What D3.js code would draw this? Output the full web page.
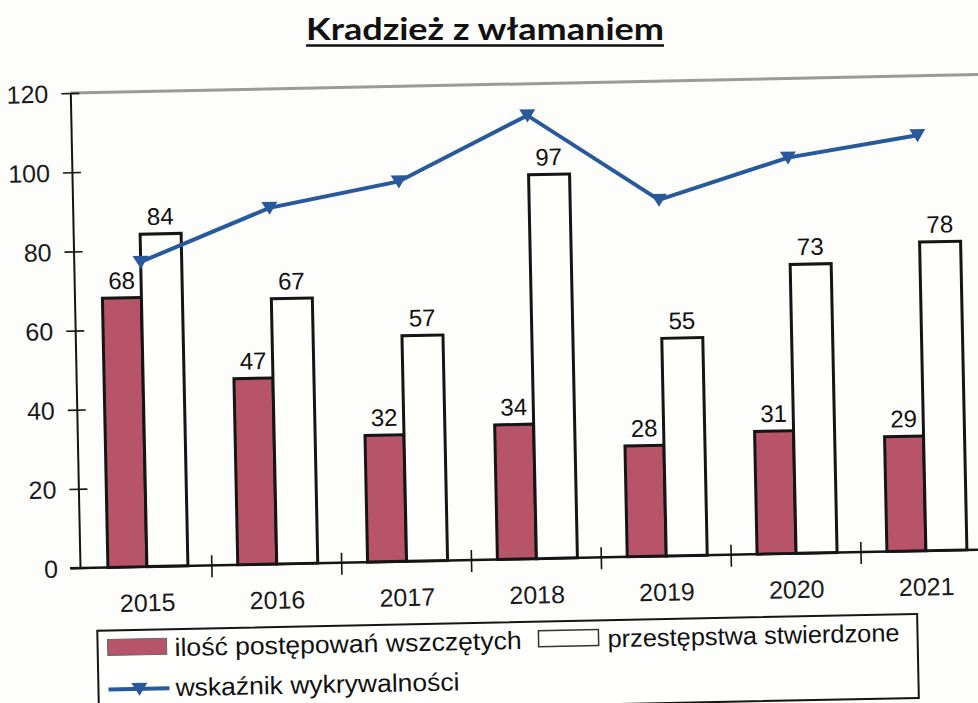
<!DOCTYPE html>
<html>
<head>
<meta charset="utf-8">
<script src="https://cdn.jsdelivr.net/npm/d3@7"></script>
<style>
  html, body { margin: 0; padding: 0; background: #fdfdfc; }
  svg { display: block; }
</style>
</head>
<body>
<script>
const years = ["2015", "2016", "2017", "2018", "2019", "2020", "2021"];
const wszczete = [68, 47, 32, 34, 28, 31, 29];
const stwierdzone = [84, 67, 57, 97, 55, 73, 78];
const wskaznik = [77, 90, 96, 112, 90, 100, 105];
const yTicks = [0, 20, 40, 60, 80, 100, 120];
const seriesNames = ["ilość postępowań wszczętych", "przestępstwa stwierdzone", "wskaźnik wykrywalności"];
const titleText = "Kradzież z włamaniem";

const W = 978, H = 703;
const svg = d3.select("body").append("svg").attr("width", W).attr("height", H);

const RED = "#b85469", BLUE = "#28599a", INK = "#151515";
const FONT = "'Liberation Sans', Arial, sans-serif";

// Title
svg.append("text")
  .attr("x", 485).attr("y", 40)
  .attr("text-anchor", "middle")
  .attr("font-family", "Lato, 'Open Sans', sans-serif")
  .attr("font-weight", 700)
  .attr("font-size", 31)
  .attr("fill", "#111")
  .attr("textLength", 358).attr("lengthAdjust", "spacingAndGlyphs")
  .text(titleText);
svg.append("line").attr("x1", 306).attr("x2", 664).attr("y1", 45.5).attr("y2", 45.5)
  .attr("stroke", "#111").attr("stroke-width", 2.5);

// Chart group (scan is slightly rotated)
const g = svg.append("g").attr("transform", "rotate(-1.17, 80, 568)");

const x = d3.scaleBand().domain(years).range([82, 991]).paddingInner(0).paddingOuter(0);
const y = d3.scaleLinear().domain([0, 120]).range([568, 93]);
const barW = 39;

// top border of plot
g.append("line").attr("x1", 80).attr("x2", 1000).attr("y1", y(120)).attr("y2", y(120))
  .attr("stroke", "#9a9a9a").attr("stroke-width", 3);

// Y axis
const yAxis = d3.axisLeft(y).tickValues(yTicks).tickSize(0).tickPadding(22);
const ya = g.append("g").attr("transform", "translate(80,0)").call(yAxis);
ya.select(".domain").attr("stroke", INK).attr("stroke-width", 2);
ya.selectAll(".tick text").attr("font-family", FONT).attr("font-size", 25).attr("fill", "#1a1a1a").attr("dy", "0.35em");
ya.selectAll(".tick").append("line").attr("x1", -9).attr("x2", 9).attr("stroke", INK).attr("stroke-width", 1.6);

// X axis baseline and ticks
const xAxis = d3.axisBottom(x).tickSize(0).tickPadding(27);
const xa = g.append("g").attr("transform", `translate(0,${y(0)})`).call(xAxis);
xa.select(".domain").remove();
xa.selectAll(".tick text").attr("font-family", FONT).attr("font-size", 25).attr("fill", "#1a1a1a");
g.append("line").attr("x1", 70).attr("x2", 1000).attr("y1", y(0)).attr("y2", y(0))
  .attr("stroke", INK).attr("stroke-width", 2.5);
g.selectAll(".xsep").data(years.slice(1)).join("line")
  .attr("class", "xsep")
  .attr("x1", d => x(d)).attr("x2", d => x(d))
  .attr("y1", y(0) - 10).attr("y2", y(0) + 12)
  .attr("stroke", INK).attr("stroke-width", 1.6);

const cx = d => x(d) + x.bandwidth() / 2;

// Bars
g.selectAll(".bar-a").data(years).join("rect")
  .attr("class", "bar-a")
  .attr("x", d => cx(d) - barW).attr("width", barW)
  .attr("y", (d, i) => y(wszczete[i])).attr("height", (d, i) => y(0) - y(wszczete[i]))
  .attr("fill", RED).attr("stroke", INK).attr("stroke-width", 3);
g.selectAll(".bar-b").data(years).join("rect")
  .attr("class", "bar-b")
  .attr("x", d => cx(d)).attr("width", barW + 2)
  .attr("y", (d, i) => y(stwierdzone[i])).attr("height", (d, i) => y(0) - y(stwierdzone[i]))
  .attr("fill", "#fffffb").attr("stroke", INK).attr("stroke-width", 3);

// Bar labels
g.selectAll(".lab-a").data(years).join("text")
  .attr("class", "lab-a")
  .attr("x", d => cx(d) - barW / 2).attr("y", (d, i) => y(wszczete[i]) - 9)
  .attr("text-anchor", "middle").attr("font-family", FONT).attr("font-size", 24).attr("fill", "#111")
  .text((d, i) => wszczete[i]);
g.selectAll(".lab-b").data(years).join("text")
  .attr("class", "lab-b")
  .attr("x", d => cx(d) + barW / 2 + 1).attr("y", (d, i) => y(stwierdzone[i]) - 9)
  .attr("text-anchor", "middle").attr("font-family", FONT).attr("font-size", 24).attr("fill", "#111")
  .text((d, i) => stwierdzone[i]);

// Line
const tri = "M-8,-6L8,-6L0,7Z";
const line = d3.line().x((d, i) => cx(years[i])).y(d => y(d));
g.append("path").datum(wskaznik).attr("d", line)
  .attr("fill", "none").attr("stroke", BLUE).attr("stroke-width", 4).attr("stroke-linejoin", "miter");
g.selectAll(".mk").data(wskaznik).join("path")
  .attr("class", "mk")
  .attr("d", tri)
  .attr("transform", (d, i) => `translate(${cx(years[i])},${y(d)})`)
  .attr("fill", BLUE);

// Legend
const lg = g.append("g");
lg.append("rect").attr("x", 96).attr("y", 631).attr("width", 820).attr("height", 84)
  .attr("fill", "#fffffd").attr("stroke", INK).attr("stroke-width", 2);
lg.append("rect").attr("x", 106).attr("y", 640).attr("width", 59).attr("height", 16)
  .attr("fill", RED).attr("stroke", "#666").attr("stroke-width", 1);
lg.append("text").attr("x", 173).attr("y", 658).attr("font-family", FONT).attr("font-size", 25)
  .attr("fill", "#111").attr("textLength", 347).attr("lengthAdjust", "spacingAndGlyphs")
  .text(seriesNames[0]);
lg.append("rect").attr("x", 537).attr("y", 640).attr("width", 60).attr("height", 16)
  .attr("fill", "#fffffd").attr("stroke", "#333").attr("stroke-width", 1.5);
lg.append("text").attr("x", 606).attr("y", 658).attr("font-family", FONT).attr("font-size", 25)
  .attr("fill", "#111").attr("textLength", 292).attr("lengthAdjust", "spacingAndGlyphs")
  .text(seriesNames[1]);
lg.append("line").attr("x1", 106).attr("x2", 167).attr("y1", 690).attr("y2", 690)
  .attr("stroke", BLUE).attr("stroke-width", 4);
lg.append("path").attr("d", tri).attr("transform", "translate(137,690)").attr("fill", BLUE);
lg.append("text").attr("x", 173).attr("y", 698).attr("font-family", FONT).attr("font-size", 25)
  .attr("fill", "#111").attr("textLength", 284).attr("lengthAdjust", "spacingAndGlyphs")
  .text(seriesNames[2]);
</script>
</body>
</html>
